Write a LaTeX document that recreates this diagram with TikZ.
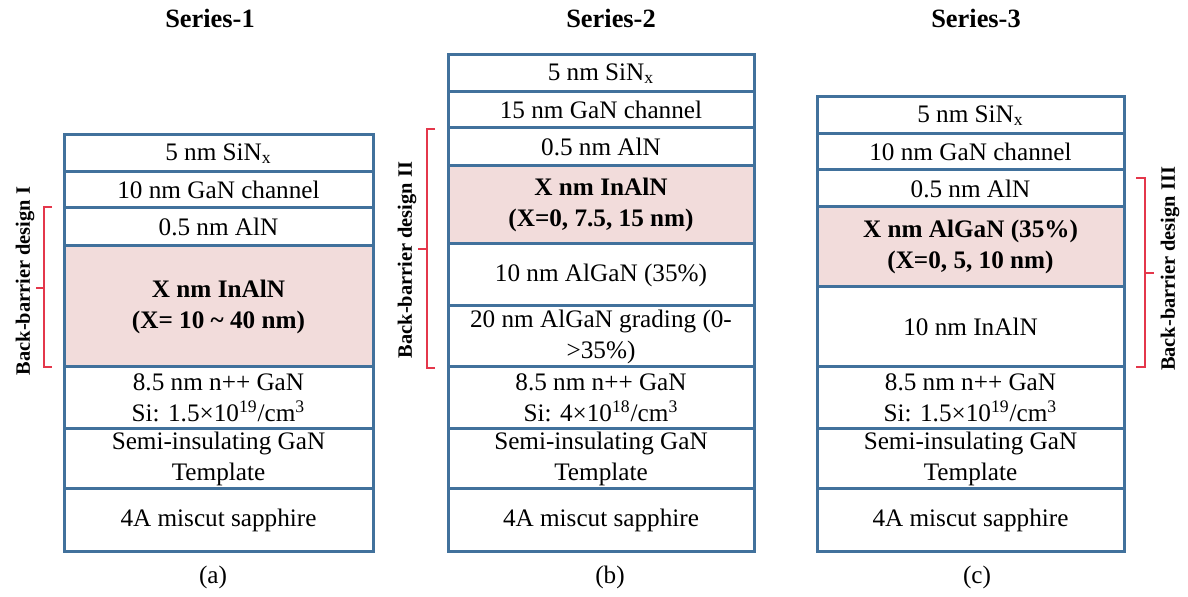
\documentclass[tikz,border=0pt]{standalone}
\usepackage{fontspec}
\setmainfont{Liberation Serif}
\definecolor{layerblue}{RGB}{65,113,156}
\definecolor{barrierpink}{RGB}{242,220,219}
\definecolor{bracered}{RGB}{228,55,75}

\begin{document}
\begin{tikzpicture}[x=0.5pt,y=-0.5pt,
    layer/.style={draw=layerblue, line width=1.5pt},
    txt/.style={align=center, inner sep=0pt, font=\fontsize{12.6}{15.5}\selectfont},
    title/.style={inner sep=0pt, font=\fontsize{13.2}{16}\selectfont\bfseries},
    brace/.style={draw=bracered, line width=0.8pt},
    bblabel/.style={rotate=90, inner sep=0pt, font=\fontsize{10.2}{12}\selectfont\bfseries}]
        \useasboundingbox (0,0) rectangle (1188,597);
        % Series-1
        \fill[barrierpink] (64,246) rectangle (373,367);
        \foreach \yt/\yb/\lbl [count=\i] in {135/172/{5 nm SiN\textsubscript{x}},
                172/208/{10 nm GaN channel}, 208/246/{0.5 nm AlN},
                246/367/{\textbf{X nm InAlN}\\\textbf{(X= 10 \textasciitilde\ 40 nm)}},
                367/429/{8.5 nm n++ GaN\\Si: 1.5×10\textsuperscript{19}/cm\textsuperscript{3}},
                429/489/{Semi-insulating GaN\\Template}, 489/552/{4A miscut sapphire}}{
            \draw[layer] (64,\yt) rectangle (373,\yb);
            \node[txt] (a\i) at (218.5,{(\yt+\yb)/2}) {\lbl};
        }
        % Series-2
        \fill[barrierpink] (448,166) rectangle (754,244);
        \foreach \yt/\yb/\lbl [count=\i] in {55/92/{5 nm SiN\textsubscript{x}},
                92/128/{15 nm GaN channel}, 128/166/{0.5 nm AlN},
                166/244/{\textbf{X nm InAlN}\\\textbf{(X=0, 7.5, 15 nm)}},
                244/306/{10 nm AlGaN (35\%)},
                306/367/{20 nm AlGaN grading (0-\\>35\%)},
                367/429/{8.5 nm n++ GaN\\Si: 4×10\textsuperscript{18}/cm\textsuperscript{3}},
                429/489/{Semi-insulating GaN\\Template}, 489/552/{4A miscut sapphire}}{
            \draw[layer] (448,\yt) rectangle (754,\yb);
            \node[txt] (b\i) at (601,{(\yt+\yb)/2}) {\lbl};
        }
        % Series-3
        \fill[barrierpink] (817,207) rectangle (1124,287);
        \foreach \yt/\yb/\lbl [count=\i] in {97/134/{5 nm SiN\textsubscript{x}},
                134/170/{10 nm GaN channel}, 170/207/{0.5 nm AlN},
                207/287/{\textbf{X nm AlGaN (35\%)}\\\textbf{(X=0, 5, 10 nm)}},
                287/367/{10 nm InAlN},
                367/429/{8.5 nm n++ GaN\\Si: 1.5×10\textsuperscript{19}/cm\textsuperscript{3}},
                429/489/{Semi-insulating GaN\\Template}, 489/552/{4A miscut sapphire}}{
            \draw[layer] (817,\yt) rectangle (1124,\yb);
            \node[txt] (c\i) at (970.5,{(\yt+\yb)/2}) {\lbl};
        }
        % titles and captions
        \node[title] (ser1) at (210,18) {Series-1};
        \node[title] (ser2) at (611,18) {Series-2};
        \node[title] (ser3) at (976,18) {Series-3};
        \node[txt] (capa) at (213,577) {(a)};
        \node[txt] (capb) at (610,577) {(b)};
        \node[txt] (capc) at (977,577) {(c)};
        % back-barrier braces
        \draw[brace] (52,207) -- (44,207) -- (44,367) -- (52,367);
        \draw[brace] (44,288) -- (36,288);
        \node[bblabel] (bb1) at (25,281) {Back-barrier design I};
        \draw[brace] (435,129) -- (427,129) -- (427,368) -- (435,368);
        \draw[brace] (427,249) -- (418,249);
        \node[bblabel] (bb2) at (407,260) {Back-barrier design II};
        \draw[brace] (1136,178) -- (1145,178) -- (1145,367) -- (1136,367);
        \draw[brace] (1145,273) -- (1154,273);
        \node[bblabel] (bb3) at (1170,269) {Back-barrier design III};
\end{tikzpicture}
\end{document}
